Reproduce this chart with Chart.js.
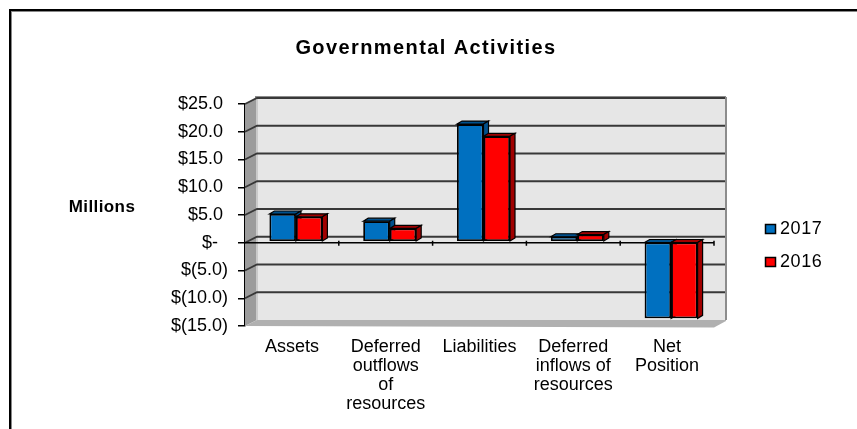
<!DOCTYPE html>
<html>
<head>
<meta charset="utf-8">
<script src="https://cdn.jsdelivr.net/npm/chart.js@4/dist/chart.umd.min.js"></script>
<style>
  html, body { margin: 0; padding: 0; background: #fff; }
  #wrap { position: relative; width: 857px; height: 429px; overflow: hidden; }
  #frame { position: absolute; left: 9px; top: 9px; width: 848px; height: 420px;
           border-top: 2px solid #000; border-left: 2px solid #000;
           box-shadow: inset 1px 1px 0 #888; }
  canvas { position: absolute; left: 0; top: 0; }
</style>
</head>
<body>
<div id="wrap">
  <div id="frame"></div>
  <canvas id="chart" width="857" height="429"></canvas>
</div>
<script>
const titleText = "Governmental Activities";
const yAxisText = "Millions";
const categories = ["Assets", ["Deferred", "outflows", "of", "resources"], "Liabilities", ["Deferred", "inflows of", "resources"], ["Net", "Position"]];
const values2017 = [5.0, 3.7, 21.2, 0.9, -13.8];
const values2016 = [4.5, 2.4, 19.0, 1.3, -13.8];
// trailing spaces: the accounting format leaves room for the closing bracket
const yTickLabels = ["$(15.0)", "$(10.0)", "$(5.0)", "$-  ", "$5.0 ", "$10.0 ", "$15.0 ", "$20.0 ", "$25.0 "];

const FONT = "'Liberation Sans', Arial, sans-serif";
const TEXT_SPACING = "0.6px";

// 3d look of the old spreadsheet chart
const WALL_DX = 12, WALL_DY = 6;
const BAR_DX = 5, BAR_DY = 3;
const BAR_SHIFT_X = 4, BAR_SHIFT_Y = -1;

const sideColors = ["#00508c", "#a00000"];

function poly(ctx, pts, fill, stroke) {
    ctx.beginPath();
    pts.forEach((p, i) => i ? ctx.lineTo(p[0], p[1]) : ctx.moveTo(p[0], p[1]));
    ctx.closePath();
    ctx.fillStyle = fill;
    ctx.fill();
    if (stroke) {
        ctx.strokeStyle = "#000";
        ctx.lineWidth = 1.2;
        ctx.stroke();
    }
}

const wallPlugin = {
    id: "wall",
    beforeDatasetsDraw(chart) {
        const ctx = chart.ctx;
        const { left, right, top, bottom } = chart.chartArea;
        const y = chart.scales.y;

        const backL = left + WALL_DX, backR = right + WALL_DX;
        const backT = top - WALL_DY, backB = bottom - WALL_DY;

        ctx.save();
        poly(ctx, [[backL, backT], [backR, backT], [backR, backB], [backL, backB]], "#e6e6e6");
        poly(ctx, [[left, top], [backL, backT], [backL, backB], [left, bottom]], "#9c9c9c");
        ctx.fillStyle = "#cacaca";
        ctx.fillRect(backL - 1, backT, 2, backB - backT);
        poly(ctx, [[left, bottom], [backL, backB], [backR, backB], [backR, backB + 1], [right, bottom + 1.5]], "#b0b0b0");
        ctx.fillStyle = "#8c8c8c";
        ctx.fillRect(backR - 1, backT - 1, 2, backB - backT + 1);
        ctx.fillRect(backL - 2, backT - 2, backR - backL + 2, 2);

        // gridlines run along the back wall and fold down the side wall
        yTickLabels.forEach((_, i) => {
            const py = y.getPixelForValue(y.min + i * 5);
            if (py >= bottom - 0.5) return;
            ctx.beginPath();
            ctx.moveTo(left, py);
            ctx.lineTo(backL, py - WALL_DY);
            ctx.lineTo(backR - 1, py - WALL_DY);
            ctx.strokeStyle = "#383838";
            ctx.lineWidth = 1.8;
            ctx.stroke();
        });

        // axis line through zero
        const zero = y.getPixelForValue(0);
        const band = (right - left) / categories.length;
        ctx.strokeStyle = "#000";
        ctx.lineWidth = 1.5;
        ctx.beginPath();
        ctx.moveTo(left, zero);
        ctx.lineTo(right, zero);
        for (let i = 1; i <= categories.length; i++) {
            ctx.moveTo(left + band * i, zero - 2);
            ctx.lineTo(left + band * i, zero + 3);
        }
        ctx.stroke();
        ctx.restore();

        // bars sit slightly inside the depth of the floor
        ctx.save();
        ctx.translate(BAR_SHIFT_X, BAR_SHIFT_Y);

        // depth faces go first, the flat bars are drawn over them
        [0, 1].forEach(ds => {
            chart.getDatasetMeta(ds).data.forEach(bar => {
                const l = bar.x - bar.width / 2;
                const r = bar.x + bar.width / 2;
                const t = Math.min(bar.y, bar.base);
                const b = Math.max(bar.y, bar.base);
                poly(ctx, [[l, t], [l + BAR_DX, t - BAR_DY], [r + BAR_DX, t - BAR_DY], [r, t]], sideColors[ds], true);
                poly(ctx, [[r, t], [r + BAR_DX, t - BAR_DY], [r + BAR_DX, b - BAR_DY], [r, b]], sideColors[ds], true);
            });
        });
    },
    afterDatasetsDraw(chart) {
        chart.ctx.restore();
    },
    afterDraw(chart) {
        const ctx = chart.ctx;
        ctx.save();
        ctx.textBaseline = "middle";
        ctx.fillStyle = "#000";

        ctx.letterSpacing = "1.4px";
        ctx.font = "bold 20px " + FONT;
        ctx.textAlign = "center";
        ctx.fillText(titleText, 426, 48);

        ctx.letterSpacing = "0.4px";
        ctx.font = "bold 17px " + FONT;
        ctx.fillText(yAxisText, 102, 207);

        // legend
        ctx.letterSpacing = TEXT_SPACING;
        ctx.font = "18px " + FONT;
        ctx.textAlign = "left";
        chart.data.datasets.forEach((ds, i) => {
            const ly = 229 + i * 33;
            ctx.fillStyle = ds.backgroundColor;
            ctx.fillRect(765.5, ly - 4.5, 10, 9);
            ctx.strokeStyle = "#000";
            ctx.lineWidth = 1.5;
            ctx.strokeRect(765.5, ly - 4.5, 10, 9);
            ctx.fillStyle = "#000";
            ctx.fillText(ds.label, 780, ly);
        });
        ctx.restore();
    }
};

const canvas = document.getElementById("chart");
canvas.getContext("2d").letterSpacing = TEXT_SPACING;

new Chart(canvas, {
    type: "bar",
    data: {
        labels: categories,
        datasets: [
            { label: "2017", data: values2017, backgroundColor: "#0070c0", borderColor: "#000", borderWidth: 1.8, borderSkipped: false, clip: false },
            { label: "2016", data: values2016, backgroundColor: "#ff0000", borderColor: "#000", borderWidth: 1.8, borderSkipped: false, clip: false }
        ]
    },
    options: {
        responsive: false,
        animation: false,
        categoryPercentage: 0.565,
        barPercentage: 1,
        layout: { padding: { left: 0, right: 143, top: 104, bottom: 0 } },
        plugins: {
            legend: { display: false },
            tooltip: { enabled: false },
            title: { display: false }
        },
        scales: {
            x: {
                grid: { display: false },
                border: { display: false },
                ticks: {
                    color: "#000",
                    font: { family: FONT, size: 18, lineHeight: 1.06 },
                    padding: 3,
                    maxRotation: 0,
                    autoSkip: false
                },
                afterFit: s => { s.height = 103; }
            },
            y: {
                min: -15,
                max: 25,
                grid: { drawOnChartArea: false, color: "#000", lineWidth: 1.5, tickLength: 7 },
                border: { color: "#000", width: 1.5 },
                ticks: {
                    stepSize: 5,
                    color: "#000",
                    font: { family: FONT, size: 18 },
                    padding: 10,
                    callback: (v) => yTickLabels[(v + 15) / 5]
                },
                afterFit: s => { s.width = 245; }
            }
        }
    },
    plugins: [wallPlugin]
});
</script>
</body>
</html>
